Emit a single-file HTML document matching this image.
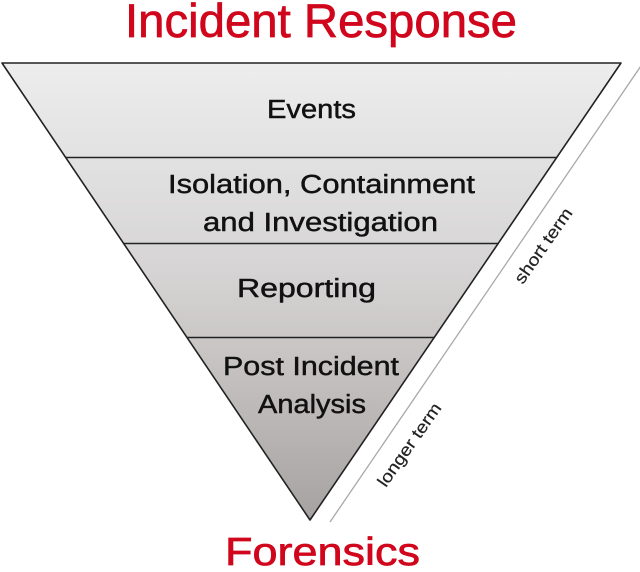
<!DOCTYPE html>
<html>
<head>
<meta charset="utf-8">
<style>
html,body{margin:0;padding:0;background:#fff;}
svg{display:block;}
text{font-family:"Liberation Sans",sans-serif;}
</style>
</head>
<body>
<svg width="640" height="572" viewBox="0 0 640 572" xmlns="http://www.w3.org/2000/svg">
  <defs>
    <linearGradient id="g" x1="0" y1="63" x2="0" y2="520" gradientUnits="userSpaceOnUse">
      <stop offset="0" stop-color="#ededed"/>
      <stop offset="0.22" stop-color="#e2e1e1"/>
      <stop offset="0.45" stop-color="#d6d4d4"/>
      <stop offset="0.65" stop-color="#c7c3c3"/>
      <stop offset="1" stop-color="#a7a2a2"/>
    </linearGradient>
    <clipPath id="tri">
      <polygon points="2,63 621,63 310,520"/>
    </clipPath>
  </defs>

  <!-- triangle -->
  <polygon points="2,63 621,63 310,520" fill="url(#g)"/>
  <g clip-path="url(#tri)" stroke="#222" stroke-width="1.6">
    <line x1="0" y1="157.5" x2="640" y2="157.5"/>
    <line x1="0" y1="243.5" x2="640" y2="243.5"/>
    <line x1="0" y1="337.5" x2="640" y2="337.5"/>
  </g>
  <polygon points="2,63 621,63 310,520" fill="none" stroke="#222" stroke-width="1.6" stroke-linejoin="round"/>

  <!-- parallel gray line -->
  <line x1="330" y1="522" x2="645" y2="60" stroke="#a8a8a8" stroke-width="1.3"/>

  <!-- titles -->
  <text x="125" y="37" font-size="47" fill="#d0061c" stroke="#d0061c" stroke-width="0.7" textLength="392" lengthAdjust="spacingAndGlyphs">Incident Response</text>
  <text x="225" y="565" font-size="39" fill="#d0061c" stroke="#d0061c" stroke-width="0.7" textLength="195" lengthAdjust="spacingAndGlyphs">Forensics</text>

  <!-- band labels -->
  <g font-size="25.5" fill="#111" stroke="#111" stroke-width="0.45">
    <text x="267" y="118" textLength="89" lengthAdjust="spacingAndGlyphs">Events</text>
    <text x="168" y="193" textLength="307" lengthAdjust="spacingAndGlyphs">Isolation, Containment</text>
    <text x="203" y="231" textLength="235" lengthAdjust="spacingAndGlyphs">and Investigation</text>
    <text x="237" y="297" textLength="139" lengthAdjust="spacingAndGlyphs">Reporting</text>
    <text x="223" y="375" textLength="176" lengthAdjust="spacingAndGlyphs">Post Incident</text>
    <text x="258" y="413" textLength="108" lengthAdjust="spacingAndGlyphs">Analysis</text>
  </g>

  <!-- side labels -->
  <g font-size="17" fill="#222" stroke="#222" stroke-width="0.2" text-anchor="middle">
    <text transform="translate(548,249) rotate(-55)" textLength="88" lengthAdjust="spacingAndGlyphs">short term</text>
    <text transform="translate(414,448) rotate(-55)" textLength="98" lengthAdjust="spacingAndGlyphs">longer term</text>
  </g>
</svg>
</body>
</html>
